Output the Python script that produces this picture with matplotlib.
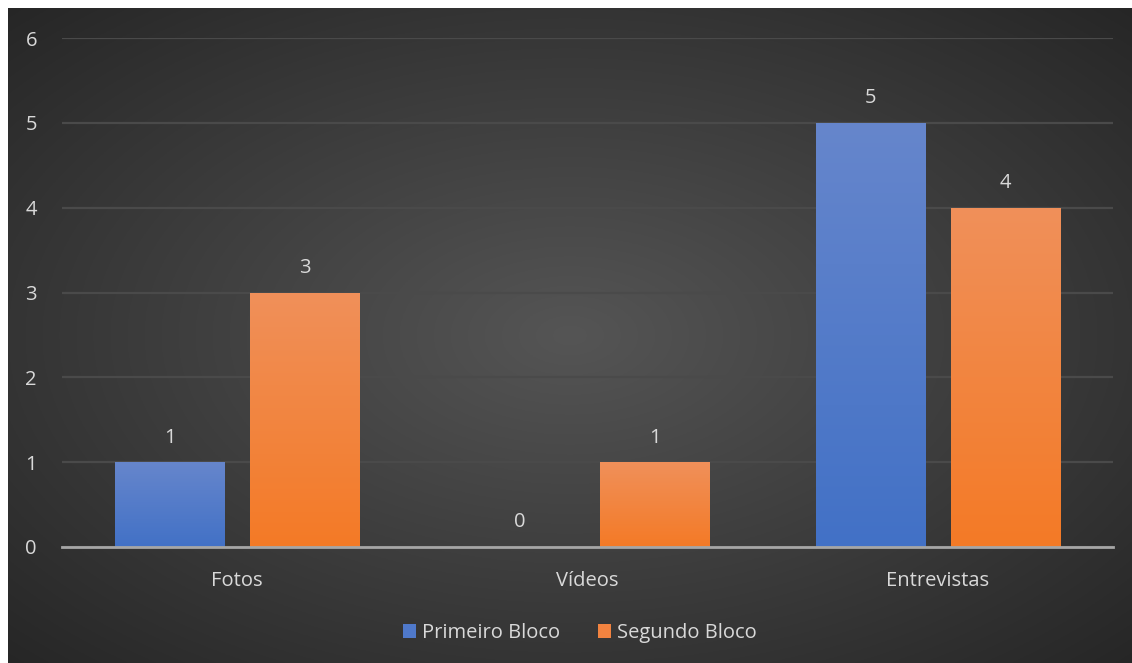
import numpy as np
import matplotlib
matplotlib.use("Agg")
import matplotlib.pyplot as plt
from matplotlib.colors import LinearSegmentedColormap
from matplotlib.patches import Patch

categories = ["Fotos", "Vídeos", "Entrevistas"]
series_names = ["Primeiro Bloco", "Segundo Bloco"]
primeiro = [1, 0, 5]
segundo = [3, 1, 4]
yticks = [0, 1, 2, 3, 4, 5, 6]

W, H = 1132, 663
fig = plt.figure(figsize=(W / 100, H / 100), dpi=100)
fig.patch.set_facecolor("white")

# background with radial gradient
bg = fig.add_axes([8 / W, 0, 1 - 8 / W, 1 - 8 / H])
bg.set_axis_off()
yy, xx = np.mgrid[0:1:400j, 0:1:700j]
r = np.sqrt(((xx - 0.5) / 0.75) ** 2 + ((yy - 0.5) / 0.75) ** 2)
r = np.clip(r / 0.95, 0, 1)
inner = np.array([0x55, 0x55, 0x55]) / 255
outer = np.array([0x26, 0x26, 0x26]) / 255
img = inner[None, None, :] * (1 - r[..., None]) + outer[None, None, :] * r[..., None]
bg.imshow(img, extent=[0, 1, 0, 1], aspect="auto")
bg.set_xlim(0, 1)
bg.set_ylim(0, 1)

ax = fig.add_axes([62 / W, 116 / H, (1113 - 62) / W, (547 - 38) / H])
ax.patch.set_alpha(0)

text_color = "#d9d9d9"
font = "Open Sans"
fs = 14.5
x = np.arange(len(categories))
bw = 0.312
off = 0.1925

grads = [
    ("#6686cc", "#4271c6"),
    ("#f0905a", "#f47a26"),
]
for vals, sign, (top, bot) in zip([primeiro, segundo], [-1, 1], grads):
    cmap = LinearSegmentedColormap.from_list("g", [bot, top])
    for xi, v in zip(x, vals):
        cx = xi + sign * off
        if v > 0:
            bar = ax.bar(cx, v, width=bw, color="none", edgecolor="none", zorder=3)[0]
            grad = np.linspace(0, 1, 256).reshape(-1, 1)
            im = ax.imshow(grad, cmap=cmap, origin="lower", aspect="auto",
                           extent=[cx - bw / 2, cx + bw / 2, 0, v], zorder=3)
            im.set_clip_path(bar)
        ax.text(cx, v + 0.29, f"{v}", ha="center", va="center", color=text_color,
                fontsize=fs, family=font, zorder=4)

ax.set_xlim(-0.5, 2.5)
ax.set_ylim(0, 6)
ax.set_yticks(yticks)
ax.set_xticks(x)
ax.set_xticklabels(categories)
ax.grid(axis="y", color="#4a4a4a", lw=1.6, zorder=0)
ax.set_axisbelow(True)
for s in ["top", "right", "left"]:
    ax.spines[s].set_visible(False)
ax.spines["bottom"].set_color("#a6a6a6")
ax.spines["bottom"].set_linewidth(2)
ax.spines["bottom"].set_zorder(5)
ax.tick_params(axis="both", length=0, colors=text_color, labelsize=fs)
ax.tick_params(axis="y", pad=18)
ax.tick_params(axis="x", pad=17)
for lab in ax.get_xticklabels() + ax.get_yticklabels():
    lab.set_family(font)
    lab.set_color(text_color)

handles = [Patch(facecolor="#4f79cb"), Patch(facecolor="#f28340")]
leg = fig.legend(handles, series_names, loc="center", bbox_to_anchor=(580 / W, 1 - 633 / H),
                 ncol=2, frameon=False, prop={"family": font, "size": fs},
                 handlelength=0.65, handleheight=0.65, handletextpad=0.3, columnspacing=1.9)
for t in leg.get_texts():
    t.set_color(text_color)

fig.savefig("out.png", dpi=100, facecolor="white")
